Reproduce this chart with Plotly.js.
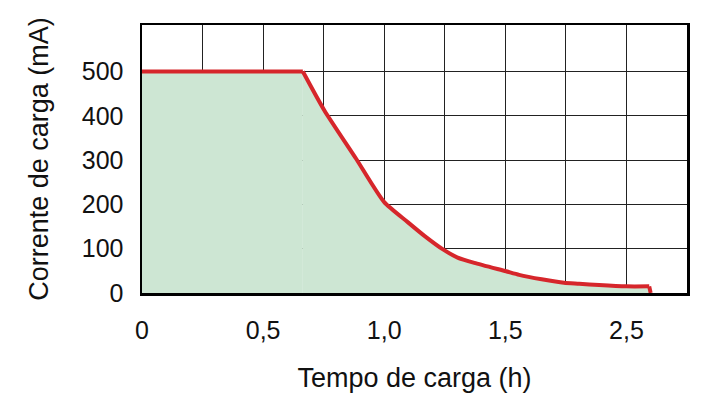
<!DOCTYPE html>
<html>
<head>
<meta charset="utf-8">
<script src="https://cdn.plot.ly/plotly-3.0.1.min.js"></script>
<style>html,body{margin:0;padding:0;background:#fff;}#chart{width:706px;height:403px;}</style>
</head>
<body>
<div id="chart"></div>
<script>
// Charging time (h) and charging current (mA)
var flatTime = [0, 0.664];
var flatCurrent = [500, 500];
var taperTime = [0.664, 0.753, 0.884, 1.0, 1.097, 1.166, 1.241, 1.303, 1.372, 1.503, 1.557, 1.65, 1.742, 1.805, 1.887, 2.0, 2.094];
var taperCurrent = [500, 412, 303, 205, 160, 129, 99, 80, 68, 49, 41, 31, 23, 21, 18, 15, 15];
var endTime = [2.094, 2.10];
var endCurrent = [15, 0];

var xTickVals = [0, 0.5, 1.0, 1.5, 2.0];
var xTickText = ["0", "0,5", "1,0", "1,5", "2,5"];
var xGridVals = [0, 0.25, 0.5, 0.75, 1.0, 1.25, 1.5, 1.75, 2.0, 2.25];
var yTickVals = [0, 100, 200, 300, 400, 500];
var yTickText = ["0", "100", "200", "300", "400", "500"];

var font = "Liberation Sans, Arial, sans-serif";
var fillCol = "rgb(205,230,211)";
var lineCol = "rgb(214,38,43)";

function seg(x, y, shape) {
  return {
    x: x, y: y, type: "scatter", mode: "lines",
    fill: "tozeroy", fillcolor: fillCol,
    line: {color: lineCol, width: 4, shape: shape, smoothing: 0.6},
    hoverinfo: "skip", showlegend: false
  };
}
var traces = [
  seg(flatTime, flatCurrent, "linear"),
  seg(taperTime, taperCurrent, "spline"),
  seg(endTime, endCurrent, "linear")
];

var layout = {
  width: 706, height: 403,
  margin: {l: 142, r: 19, t: 25, b: 110},
  paper_bgcolor: "#fff", plot_bgcolor: "#fff",
  font: {family: font, color: "#111", size: 25},
  xaxis: {
    range: [0, 2.25], tickvals: xTickVals, ticktext: xTickText,
    showgrid: true, gridcolor: "#222", gridwidth: 1.2,
    minor: {tickvals: xGridVals, showgrid: true, gridcolor: "#222", gridwidth: 1.2, ticks: ""},
    showline: true, linecolor: "#000", linewidth: 2.5, mirror: true,
    zeroline: false, ticks: "", ticklabelstandoff: 13,
    tickfont: {size: 25, family: font, color: "#111"},
    title: {text: "Tempo de carga (h)", font: {size: 27, family: font, color: "#111"}, standoff: 26},
    fixedrange: true, layer: "above traces"
  },
  yaxis: {
    range: [0, 605], tickvals: yTickVals, ticktext: yTickText,
    showgrid: true, gridcolor: "#222", gridwidth: 1.2,
    showline: true, linecolor: "#000", linewidth: 2.5, mirror: true,
    zeroline: false, ticks: "", ticklabelstandoff: 11,
    tickfont: {size: 25, family: font, color: "#111"},
    title: {text: "Corrente de carga (mA)", font: {size: 27, family: font, color: "#111"}, standoff: 26},
    fixedrange: true, layer: "above traces"
  }
};

Plotly.newPlot("chart", traces, layout, {displayModeBar: false, staticPlot: true});
</script>
</body>
</html>
